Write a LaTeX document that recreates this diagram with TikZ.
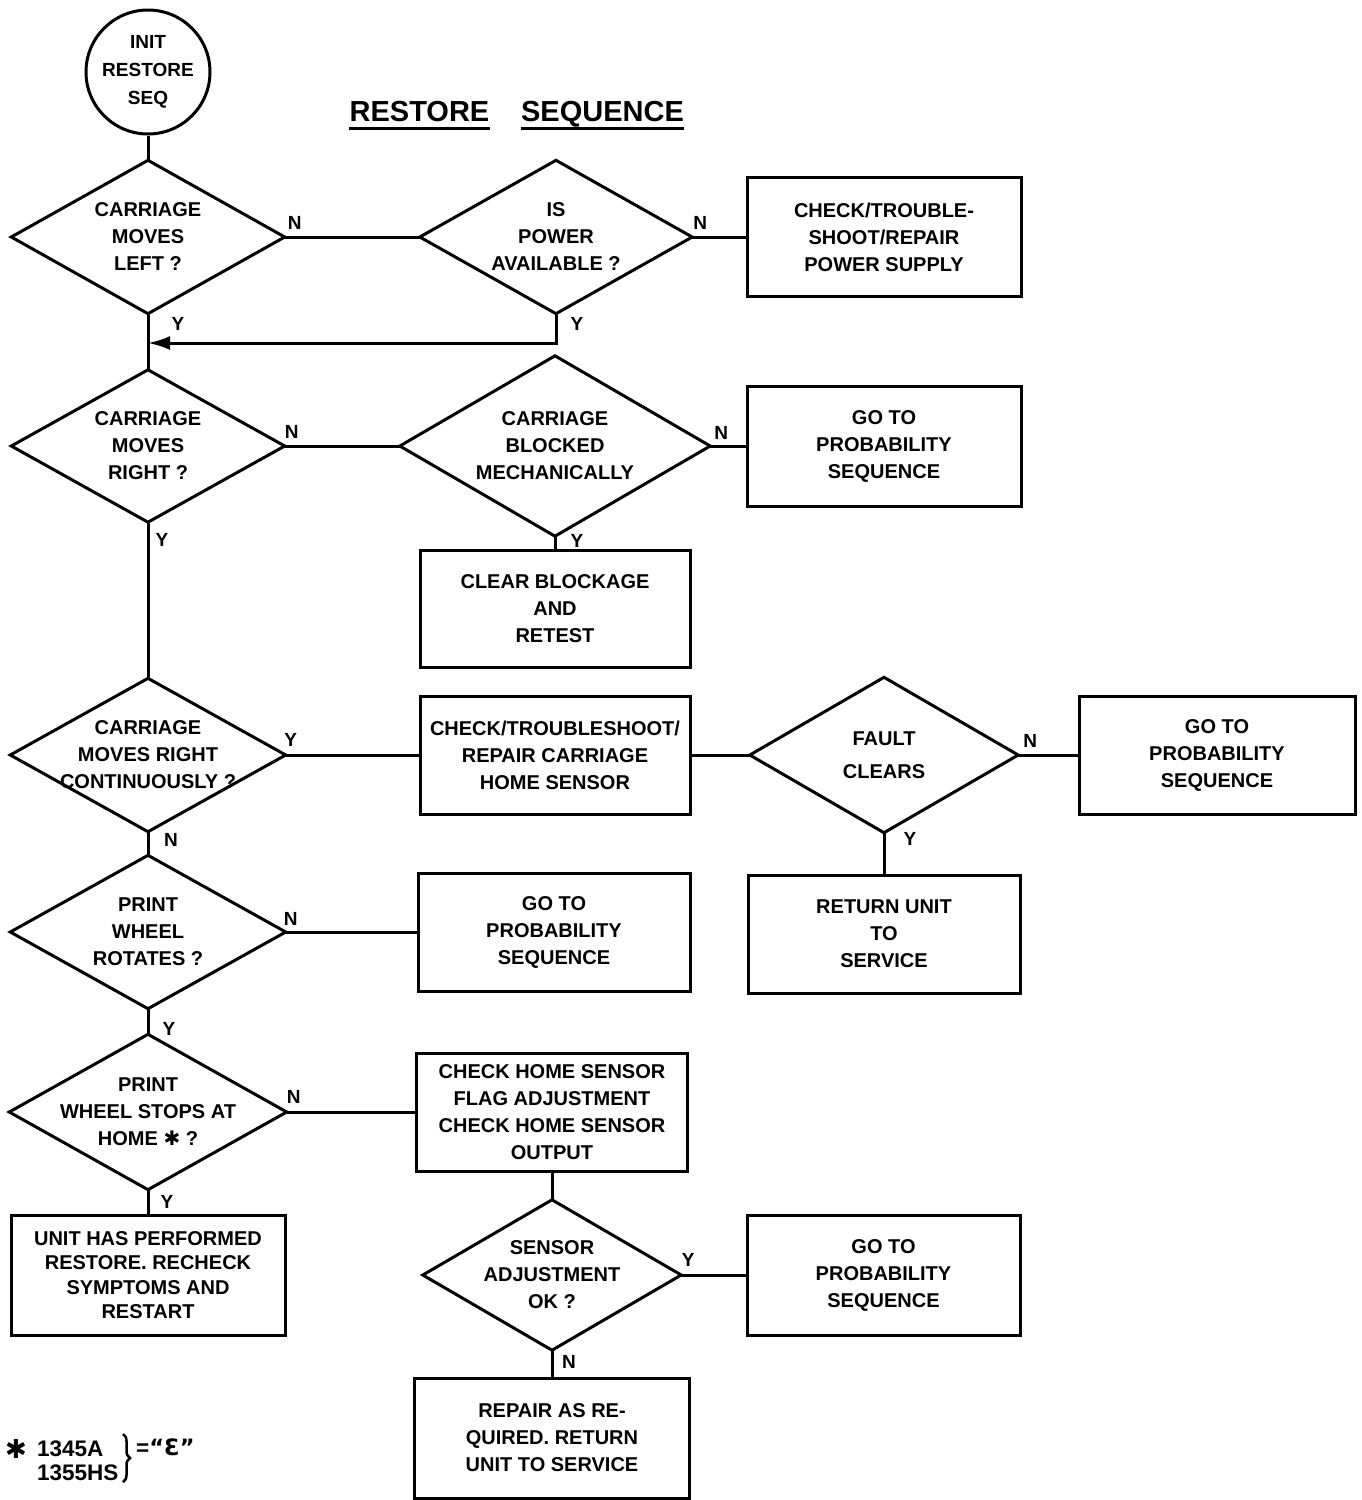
\documentclass[tikz,border=0pt]{standalone}
\usepackage{fontspec}
\setmainfont{Liberation Sans}
\newfontfamily\dejavu{DejaVu Sans}
\usetikzlibrary{arrows.meta,decorations.pathreplacing}
\tikzset{
  shp/.style={line width=3pt, line join=miter},
  conn/.style={line width=3pt},
  txt/.style={font=\bfseries\fontsize{20}{27}\selectfont, align=center, inner sep=0pt},
  boxnode/.style={txt, draw, rectangle, line width=3pt},
  lbl/.style={font=\bfseries\fontsize{19}{22}\selectfont, inner sep=0pt},
  foot/.style={font=\bfseries\fontsize{22.5}{24}\selectfont, inner sep=0pt, anchor=base west},
  ttl/.style={font=\bfseries\fontsize{29}{31}\selectfont, inner sep=0pt, anchor=base},
}
\newcommand\dmd[6]{%
  \node[txt, minimum width=#4pt, minimum height=#5pt] (#1) at (#2,#3) {#6};
  \draw[shp] (#1.west)--(#1.north)--(#1.east)--(#1.south)--cycle;}
\begin{document}
\begin{tikzpicture}[x=1pt,y=-1pt]
\path[use as bounding box] (0,0) rectangle (1361,1500);

% title
\node[ttl] (t1) at (419.5,121) {RESTORE};
\node[ttl] (t2) at (602.5,121) {SEQUENCE};
\draw[line width=3pt] ([yshift=-7pt]t1.base west) -- ([yshift=-7pt]t1.base east);
\draw[line width=3pt] ([yshift=-7pt]t2.base west) -- ([yshift=-7pt]t2.base east);

% start circle
\node[draw, circle, line width=3pt, minimum size=124pt, inner sep=0pt, align=center,
      font=\bfseries\fontsize{19}{28}\selectfont] (c0) at (148,72) {INIT\\RESTORE\\SEQ};

% diamonds
\dmd{d1}{148}{237}{273}{153}{CARRIAGE\\MOVES\\LEFT ?}
\dmd{d2}{556}{237}{272}{153}{IS\\POWER\\AVAILABLE ?}
\dmd{d3}{148}{446}{273}{152}{CARRIAGE\\MOVES\\RIGHT ?}
\dmd{d4}{555}{446}{310}{180}{CARRIAGE\\BLOCKED\\MECHANICALLY}
\dmd{d5}{148}{755}{275}{153}{CARRIAGE\\MOVES RIGHT\\CONTINUOUSLY ?}
\dmd{d6}{884}{755}{268}{155}{FAULT\\[6pt]CLEARS}
\dmd{d7}{148}{932}{275}{153}{PRINT\\WHEEL\\ROTATES ?}
\dmd{d8}{148}{1112}{277}{155}{PRINT\\WHEEL STOPS AT\\HOME {\dejavu\bfseries ✱} ?}
\dmd{d9}{552}{1275}{258}{150}{SENSOR\\ADJUSTMENT\\OK ?}

% boxes
\node[boxnode, minimum width=274pt, minimum height=119pt] (b1) at (884,237) {CHECK/TROUBLE-\\SHOOT/REPAIR\\POWER SUPPLY};
\node[boxnode, minimum width=274pt, minimum height=120pt] (b2) at (884,446) {GO TO\\PROBABILITY\\SEQUENCE};
\node[boxnode, minimum width=270pt, minimum height=117pt] (b3) at (555,608.5) {CLEAR BLOCKAGE\\AND\\RETEST};
\node[boxnode, minimum width=270pt, minimum height=118pt] (b4) at (555,755) {CHECK/TROUBLESHOOT/\\REPAIR CARRIAGE\\HOME SENSOR};
\node[boxnode, minimum width=276pt, minimum height=118pt] (b5) at (1217,755) {GO TO\\PROBABILITY\\SEQUENCE};
\node[boxnode, minimum width=272pt, minimum height=118pt] (b6) at (884,934) {RETURN UNIT\\TO\\SERVICE};
\node[boxnode, minimum width=272pt, minimum height=118pt] (b7) at (554,932) {GO TO\\PROBABILITY\\SEQUENCE};
\node[boxnode, minimum width=271pt, minimum height=118pt] (b8) at (552,1112) {CHECK HOME SENSOR\\FLAG ADJUSTMENT\\CHECK HOME SENSOR\\OUTPUT};
\node[boxnode, minimum width=274pt, minimum height=120pt, font=\bfseries\fontsize{20}{24.5}\selectfont] (b9) at (148,1275) {UNIT HAS PERFORMED\\RESTORE. RECHECK\\SYMPTOMS AND\\RESTART};
\node[boxnode, minimum width=273pt, minimum height=120pt] (b10) at (883.5,1275) {GO TO\\PROBABILITY\\SEQUENCE};
\node[boxnode, minimum width=275pt, minimum height=120pt] (b11) at (552,1438) {REPAIR AS RE-\\QUIRED. RETURN\\UNIT TO SERVICE};

% connectors
\coordinate (j1) at (148,343);
\draw[conn] (c0.south) -- (d1.north);
\draw[conn] (d1.east) -- (d2.west);
\draw[conn] (d2.east) -- (b1.west);
\draw[conn] (d1.south) -- (d3.north);
\draw[conn, -{Latex[length=22pt,width=14pt]}] (d2.south) |- (j1);
\draw[conn] (d3.east) -- (d4.west);
\draw[conn] (d4.east) -- (b2.west);
\draw[conn] (d4.south) -- (b3.north);
\draw[conn] (d3.south) -- (d5.north);
\draw[conn] (d5.east) -- (b4.west);
\draw[conn] (b4.east) -- (d6.west);
\draw[conn] (d6.east) -- (b5.west);
\draw[conn] (d6.south) -- (b6.north);
\draw[conn] (d5.south) -- (d7.north);
\draw[conn] (d7.east) -- (b7.west);
\draw[conn] (d7.south) -- (d8.north);
\draw[conn] (d8.east) -- (b8.west);
\draw[conn] (d8.south) -- (b9.north);
\draw[conn] (b8.south) -- (d9.north);
\draw[conn] (d9.east) -- (b10.west);
\draw[conn] (d9.south) -- (b11.north);

% labels
\node[lbl] at ([shift={(10,-14)}]d1.east) {N};
\node[lbl] at ([shift={(8,-14)}]d2.east) {N};
\node[lbl] at ([shift={(30,10)}]d1.south) {Y};
\node[lbl] at ([shift={(21,10)}]d2.south) {Y};
\node[lbl] at ([shift={(7,-14)}]d3.east) {N};
\node[lbl] at ([shift={(11,-13)}]d4.east) {N};
\node[lbl] at ([shift={(22,5)}]d4.south) {Y};
\node[lbl] at ([shift={(14,18)}]d3.south) {Y};
\node[lbl] at ([shift={(5,-15)}]d5.east) {Y};
\node[lbl] at ([shift={(12,-14)}]d6.east) {N};
\node[lbl] at ([shift={(26,6)}]d6.south) {Y};
\node[lbl] at ([shift={(23,8)}]d5.south) {N};
\node[lbl] at ([shift={(5,-13)}]d7.east) {N};
\node[lbl] at ([shift={(21,20)}]d7.south) {Y};
\node[lbl] at ([shift={(7,-15)}]d8.east) {N};
\node[lbl] at ([shift={(19,12)}]d8.south) {Y};
\node[lbl] at ([shift={(7,-15)}]d9.east) {Y};
\node[lbl] at ([shift={(17,12)}]d9.south) {N};

% footnote
\node[foot] (f0) at (5,1458) {\dejavu\bfseries\fontsize{26}{28}\selectfont ✱};
\node[foot] (f1) at (37,1456) {1345A};
\node[foot] (f2) at (37,1480) {1355HS};
\draw[line width=2.5pt, decorate, decoration={brace, amplitude=7pt}] (123,1434) -- (123,1482);
\node[foot] (f3) at (136,1455) {={\dejavu\bfseries “Ɛ”}};
\end{tikzpicture}
\end{document}
